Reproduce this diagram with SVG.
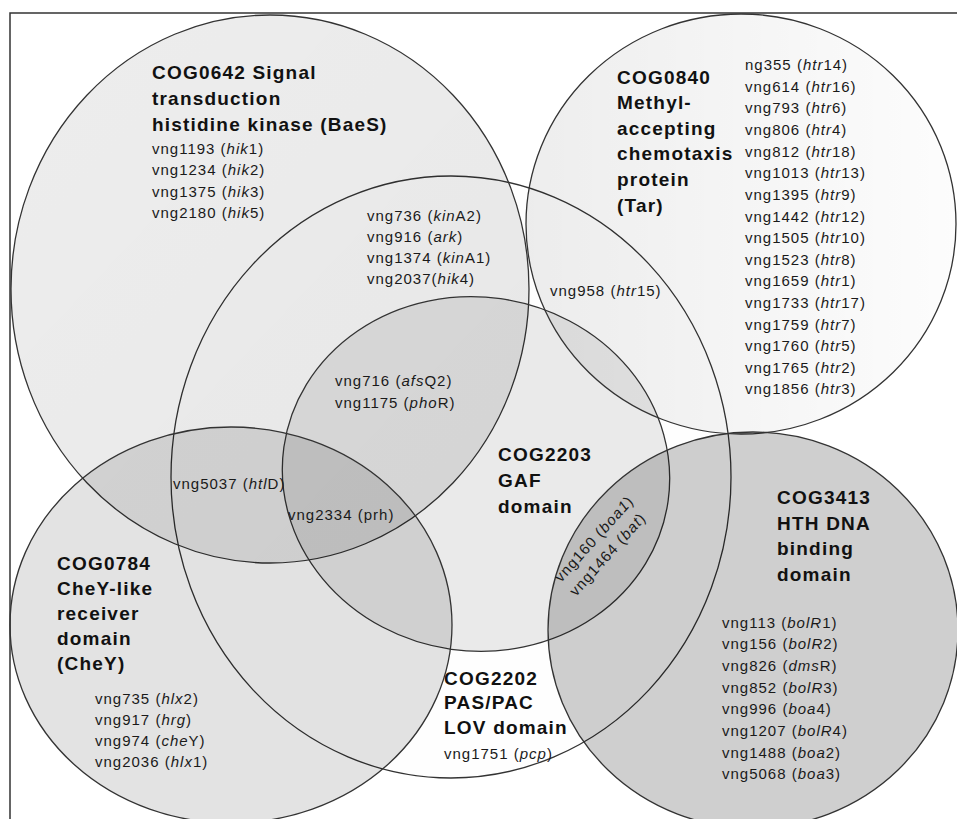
<svg xmlns="http://www.w3.org/2000/svg" width="957" height="819" viewBox="0 0 957 819">
<style>
.set{stroke:#333;stroke-width:1.3}
.h{font-family:"Liberation Sans",Arial,sans-serif;font-weight:bold;font-size:19px;letter-spacing:1.2px;fill:#111}
.t{font-family:"Liberation Sans",Arial,sans-serif;font-size:15px;letter-spacing:1px;fill:#1a1a1a}
.i{font-style:italic}
</style>
<defs>
<linearGradient id="gTar" x1="0" y1="0" x2="1" y2="0">
<stop offset="0" stop-color="#000" stop-opacity="0.07"/>
<stop offset="1" stop-color="#000" stop-opacity="0.01"/>
</linearGradient>
<linearGradient id="gBae" x1="0" y1="0" x2="1" y2="1">
<stop offset="0" stop-color="#000" stop-opacity="0.07"/>
<stop offset="1" stop-color="#000" stop-opacity="0.09"/>
</linearGradient>
</defs>
<rect width="957" height="819" fill="#fff"/>
<rect x="10" y="13" width="950" height="812" fill="none" stroke="#333" stroke-width="1.5"/>

<g id="cog2202">
<ellipse class="set" cx="451" cy="477" rx="280" ry="301" fill="#000" fill-opacity="0.005"/>
<text class="h" x="444" y="685">COG2202</text>
<text class="h" x="444" y="709">PAS/PAC</text>
<text class="h" x="444" y="734">LOV domain</text>
<text class="t" x="444" y="759">vng1751 (<tspan class="i">pcp</tspan>)</text>
</g>

<g id="cog0642">
<ellipse class="set" cx="270" cy="289" rx="259" ry="274" fill="url(#gBae)"/>
<text class="h" x="152" y="79">COG0642 Signal</text>
<text class="h" x="152" y="105">transduction</text>
<text class="h" x="152" y="131">histidine kinase (BaeS)</text>
<text class="t" x="152" y="154">vng1193 (<tspan class="i">hik</tspan>1)</text>
<text class="t" x="152" y="175">vng1234 (<tspan class="i">hik</tspan>2)</text>
<text class="t" x="152" y="197">vng1375 (<tspan class="i">hik</tspan>3)</text>
<text class="t" x="152" y="218">vng2180 (<tspan class="i">hik</tspan>5)</text>
</g>

<g id="cog2203">
<ellipse class="set" cx="476" cy="474" rx="194" ry="177" transform="rotate(8 476 474)" fill="#000" fill-opacity="0.08"/>
<text class="h" x="498" y="461">COG2203</text>
<text class="h" x="498" y="487">GAF</text>
<text class="h" x="498" y="513">domain</text>
</g>

<g id="cog0840">
<ellipse class="set" cx="741" cy="224" rx="215" ry="210" fill="url(#gTar)"/>
<text class="h" x="617" y="84">COG0840</text>
<text class="h" x="617" y="109">Methyl-</text>
<text class="h" x="617" y="135">accepting</text>
<text class="h" x="617" y="160">chemotaxis</text>
<text class="h" x="617" y="186">protein</text>
<text class="h" x="617" y="212">(Tar)</text>
<text class="t" x="745" y="70">ng355 (<tspan class="i">htr</tspan>14)</text>
<text class="t" x="745" y="92">vng614 (<tspan class="i">htr</tspan>16)</text>
<text class="t" x="745" y="113">vng793 (<tspan class="i">htr</tspan>6)</text>
<text class="t" x="745" y="135">vng806 (<tspan class="i">htr</tspan>4)</text>
<text class="t" x="745" y="157">vng812 (<tspan class="i">htr</tspan>18)</text>
<text class="t" x="745" y="178">vng1013 (<tspan class="i">htr</tspan>13)</text>
<text class="t" x="745" y="200">vng1395 (<tspan class="i">htr</tspan>9)</text>
<text class="t" x="745" y="222">vng1442 (<tspan class="i">htr</tspan>12)</text>
<text class="t" x="745" y="243">vng1505 (<tspan class="i">htr</tspan>10)</text>
<text class="t" x="745" y="265">vng1523 (<tspan class="i">htr</tspan>8)</text>
<text class="t" x="745" y="286">vng1659 (<tspan class="i">htr</tspan>1)</text>
<text class="t" x="745" y="308">vng1733 (<tspan class="i">htr</tspan>17)</text>
<text class="t" x="745" y="330">vng1759 (<tspan class="i">htr</tspan>7)</text>
<text class="t" x="745" y="351">vng1760 (<tspan class="i">htr</tspan>5)</text>
<text class="t" x="745" y="373">vng1765 (<tspan class="i">htr</tspan>2)</text>
<text class="t" x="745" y="394">vng1856 (<tspan class="i">htr</tspan>3)</text>
</g>

<g id="cog0784">
<ellipse class="set" cx="231" cy="625" rx="221" ry="198" fill="#000" fill-opacity="0.11"/>
<text class="h" x="57" y="570">COG0784</text>
<text class="h" x="57" y="595">CheY-like</text>
<text class="h" x="57" y="620">receiver</text>
<text class="h" x="57" y="645">domain</text>
<text class="h" x="57" y="670">(CheY)</text>
<text class="t" x="95" y="704">vng735 (<tspan class="i">hlx</tspan>2)</text>
<text class="t" x="95" y="725">vng917 (<tspan class="i">hrg</tspan>)</text>
<text class="t" x="95" y="746">vng974 (<tspan class="i">che</tspan>Y)</text>
<text class="t" x="95" y="767">vng2036 (<tspan class="i">hlx</tspan>1)</text>
</g>

<g id="cog3413">
<ellipse class="set" cx="753" cy="630" rx="205" ry="198" fill="#000" fill-opacity="0.19"/>
<text class="h" x="777" y="504">COG3413</text>
<text class="h" x="777" y="530">HTH DNA</text>
<text class="h" x="777" y="555">binding</text>
<text class="h" x="777" y="581">domain</text>
<text class="t" x="722" y="628">vng113 (<tspan class="i">bolR</tspan>1)</text>
<text class="t" x="722" y="649">vng156 (<tspan class="i">bolR</tspan>2)</text>
<text class="t" x="722" y="671">vng826 (<tspan class="i">dms</tspan>R)</text>
<text class="t" x="722" y="693">vng852 (<tspan class="i">bolR</tspan>3)</text>
<text class="t" x="722" y="714">vng996 (<tspan class="i">boa</tspan>4)</text>
<text class="t" x="722" y="736">vng1207 (<tspan class="i">bolR</tspan>4)</text>
<text class="t" x="722" y="758">vng1488 (<tspan class="i">boa</tspan>2)</text>
<text class="t" x="722" y="779">vng5068 (<tspan class="i">boa</tspan>3)</text>
</g>

<g id="overlaps">
<g id="baes-pas">
<text class="t" x="367" y="221">vng736 (<tspan class="i">kin</tspan>A2)</text>
<text class="t" x="367" y="242">vng916 (<tspan class="i">ark</tspan>)</text>
<text class="t" x="367" y="263">vng1374 (<tspan class="i">kin</tspan>A1)</text>
<text class="t" x="367" y="284">vng2037(<tspan class="i">hik</tspan>4)</text>
</g>
<g id="tar-pas">
<text class="t" x="550" y="296">vng958 (<tspan class="i">htr</tspan>15)</text>
</g>
<g id="baes-pas-gaf">
<text class="t" x="335" y="386">vng716 (<tspan class="i">afs</tspan>Q2)</text>
<text class="t" x="335" y="408">vng1175 (<tspan class="i">pho</tspan>R)</text>
</g>
<g id="baes-chey-pas">
<text class="t" x="173" y="489">vng5037 (<tspan class="i">htl</tspan>D)</text>
</g>
<g id="chey-pas-gaf">
<text class="t" x="288" y="520">vng2334 (prh)</text>
</g>
<g id="gaf-hth">
<text class="t" transform="translate(561 583) rotate(-48)">vng160 (<tspan class="i">boa1</tspan>)</text>
<text class="t" transform="translate(576 597) rotate(-48)">vng1464 (<tspan class="i">bat</tspan>)</text>
</g>
</g>
</svg>
